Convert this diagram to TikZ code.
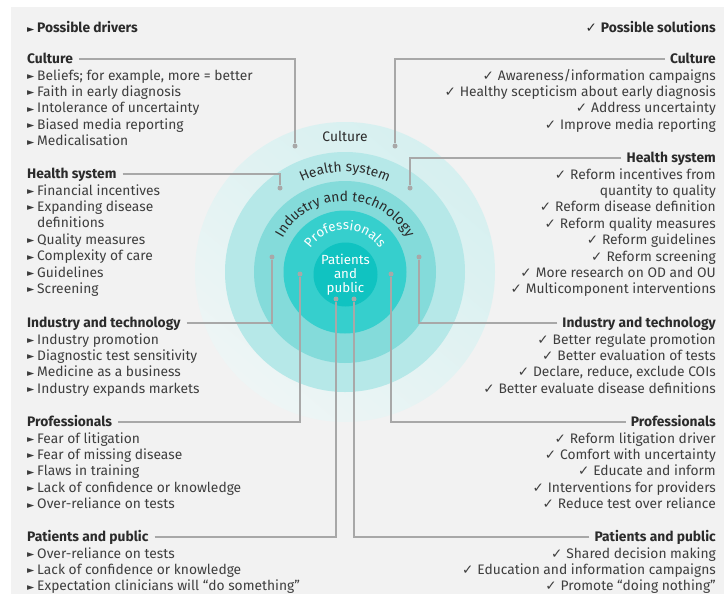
\documentclass[tikz,border=0pt]{standalone}
\usepackage{fontspec}
\setmainfont{Fira Sans}
\newfontfamily\symfont{DejaVu Sans}
\usetikzlibrary{calc,positioning,decorations.text}

\definecolor{bgcol}{HTML}{F2F2F2}
\definecolor{culA}{HTML}{D6F0F0}
\definecolor{culB}{HTML}{EEF5F5}
\definecolor{heacol}{HTML}{B6E8E8}
\definecolor{indcol}{HTML}{84DBDA}
\definecolor{procol}{HTML}{36CFCD}
\definecolor{patcol}{HTML}{10C3C1}
\definecolor{lnkcol}{HTML}{A8A8A8}
\definecolor{hdcol}{HTML}{2B2B2B}
\definecolor{txtcol}{HTML}{3E3E3E}

\newcommand{\txtsize}{\fontsize{13.8}{15}\selectfont}
\newcommand{\bul}{\makebox[10pt][l]{\raisebox{0.6pt}{\symfont\fontsize{9.5}{9.5}\selectfont ►}}}
\newcommand{\chk}{{\symfont\fontsize{13.5}{13.5}\selectfont ✓}\hspace{4pt}}

\tikzset{
  hd/.style={font=\txtsize\bfseries, text=hdcol, inner sep=0pt, text height=9.5pt, text depth=0pt},
  itm/.style={font=\txtsize, text=txtcol, inner sep=0pt, text height=9.5pt, text depth=0pt},
  lnk/.style={draw=lnkcol, line width=1.2pt},
  pin/.style={circle, fill=lnkcol, inner sep=0pt, minimum size=5pt},
  ringtext/.style={decorate, decoration={text along path, text align=center, text color=#1}}
}

\begin{document}
\begin{tikzpicture}[x=1pt,y=1pt]
  \useasboundingbox (0,0) rectangle (724,-598);
  \fill[bgcol] (11,-7) rectangle (724,-594);
  \coordinate(C) at (345,-272);
  \shade[top color=culA, bottom color=culB, shading angle=-40] (C) circle (150);
  \fill[heacol] (C) circle (120);
  \fill[indcol] (C) circle (91);
  \fill[procol] (C) circle (61.5);
  \fill[patcol] (345.5,-274.5) circle (32);

  \node[itm, text=hdcol] (tCul) at (345,-137) {Culture};
  \path[ringtext=hdcol, decoration={text={|\txtsize|Health system}}] ($(C)+(165:100)$) arc (165:15:100);
  \path[ringtext=hdcol, decoration={text={|\txtsize|Industry and technology}}] ($(C)+(175:71)$) arc (175:5:71);
  \path[ringtext=white, decoration={text={|\fontsize{13.3}{14}\selectfont|Professionals}}] ($(C)+(175:42)$) arc (175:5:42);
  \node[align=center, font=\fontsize{13.3}{14}\selectfont, text=white] (tPat) at (345.5,-275) {Patients\\and\\public};

  \node[hd, anchor=west] (lTitle) at (27,-28) {\bul Possible drivers};
  \node[hd, anchor=east] (rTitle) at (716,-28) {\chk Possible solutions};

  \node[hd, anchor=west] (lCul) at (27,-59) {Culture};
  \foreach \t [count=\i] in {{Beliefs; for example, more = better},Faith in early diagnosis,
    Intolerance of uncertainty,Biased media reporting,Medicalisation}
    \node[itm, anchor=west] at (27,{-59-16.4*\i}) {\bul\t};
  \node[hd, anchor=west] (lHea) at (27,-174) {Health system};
  \foreach \t [count=\i] in {\bul Financial incentives,\bul Expanding disease,\hspace*{10pt}definitions,
    \bul Quality measures,\bul Complexity of care,\bul Guidelines,\bul Screening}
    \node[itm, anchor=west] at (27,{-174-16.4*\i}) {\t};
  \node[hd, anchor=west] (lInd) at (27,-323) {Industry and technology};
  \foreach \t [count=\i] in {Industry promotion,Diagnostic test sensitivity,
    Medicine as a business,Industry expands markets}
    \node[itm, anchor=west] at (27,{-323-16.4*\i}) {\bul\t};
  \node[hd, anchor=west] (lPro) at (27,-422) {Professionals};
  \foreach \t [count=\i] in {Fear of litigation,Fear of missing disease,Flaws in training,
    Lack of confidence or knowledge,Over-reliance on tests}
    \node[itm, anchor=west] at (27,{-422-16.4*\i}) {\bul\t};
  \node[hd, anchor=west] (lPat) at (27,-537) {Patients and public};
  \foreach \t [count=\i] in {Over-reliance on tests,Lack of confidence or knowledge,
    Expectation clinicians will “do something”}
    \node[itm, anchor=west] at (27,{-537-16.4*\i}) {\bul\t};

  \node[hd, anchor=east] (rCul) at (716,-59) {Culture};
  \foreach \t [count=\i] in {Awareness/information campaigns,Healthy scepticism about early diagnosis,
    Address uncertainty,Improve media reporting}
    \node[itm, anchor=east] at (716,{-59-16.4*\i}) {\chk\t};
  \node[hd, anchor=east] (rHea) at (716,-158) {Health system};
  \foreach \t [count=\i] in {\chk Reform incentives from,quantity to quality,\chk Reform disease definition,
    \chk Reform quality measures,\chk Reform guidelines,\chk Reform screening,
    \chk More research on OD and OU,\chk Multicomponent interventions}
    \node[itm, anchor=east] at (716,{-158-16.4*\i}) {\t};
  \node[hd, anchor=east] (rInd) at (716,-323) {Industry and technology};
  \foreach \t [count=\i] in {Better regulate promotion,Better evaluation of tests,
    {Declare, reduce, exclude COIs},Better evaluate disease definitions}
    \node[itm, anchor=east] at (716,{-323-16.4*\i}) {\chk\t};
  \node[hd, anchor=east] (rPro) at (716,-422) {Professionals};
  \foreach \t [count=\i] in {Reform litigation driver,Comfort with uncertainty,Educate and inform,
    Interventions for providers,Reduce test over reliance}
    \node[itm, anchor=east] at (716,{-422-16.4*\i}) {\chk\t};
  \node[hd, anchor=east] (rPat) at (716,-537) {Patients and public};
  \foreach \t [count=\i] in {Shared decision making,Education and information campaigns,
    Promote “doing nothing”}
    \node[itm, anchor=east] at (716,{-537-16.4*\i}) {\chk\t};

  \node[pin] (dCulL) at (295,-146) {};
  \node[pin] (dHeaL) at (280,-188) {};
  \node[pin] (dIndL) at (272,-257) {};
  \node[pin] (dProL) at (300,-274) {};
  \node[pin] (dPatL) at (336,-299) {};
  \node[pin] (dCulR) at (395,-146) {};
  \node[pin] (dHeaR) at (410,-188) {};
  \node[pin] (dIndR) at (419,-257) {};
  \node[pin] (dProR) at (391,-274) {};
  \node[pin] (dPatR) at (354,-299) {};

  \draw[lnk] ([xshift=6pt]lCul.east) -| (dCulL);
  \draw[lnk] ([xshift=6pt]lHea.east) -| (dHeaL);
  \draw[lnk] ([xshift=6pt]lInd.east) -| (dIndL);
  \draw[lnk] ([xshift=6pt]lPro.east) -| (dProL);
  \draw[lnk] ([xshift=6pt]lPat.east) -| (dPatL);
  \draw[lnk] ([xshift=-5pt]rCul.west) -| (dCulR);
  \draw[lnk] ([xshift=-5pt]rHea.west) -| (dHeaR);
  \draw[lnk] ([xshift=-5pt]rInd.west) -| (dIndR);
  \draw[lnk] ([xshift=-5pt]rPro.west) -| (dProR);
  \draw[lnk] ([xshift=-5pt]rPat.west) -| (dPatR);
\end{tikzpicture}
\end{document}
